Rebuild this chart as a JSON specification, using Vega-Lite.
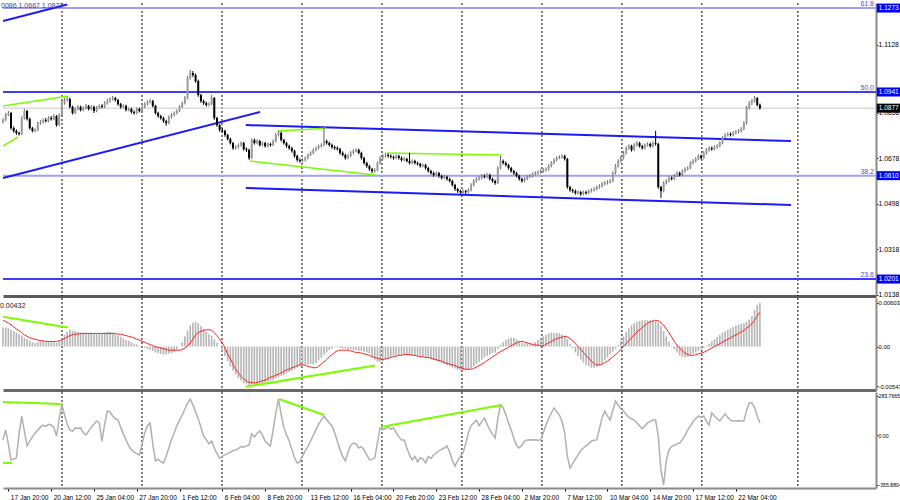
{
"$schema": "https://vega.github.io/schema/vega-lite/v6.json",
"padding": 0,
"background": "white",
"bounds": "flush",
"spacing": 2,
"config": {"view": {"stroke": null}, "axis": {"labelFont": "Liberation Sans", "labelFontSize": 6.8, "labelColor": "#000000", "tickColor": "#000000", "tickSize": 2, "grid": false}, "text": {"font": "Liberation Sans"}},
"datasets": {
"bars": [
{"i":0,"o":1.0822,"h":1.0837,"l":1.0816,"c":1.0830,"m":0.0026,"s":0.0036,"k":-32},
{"i":1,"o":1.0830,"h":1.0858,"l":1.0825,"c":1.0850,"m":0.0026,"s":0.0034,"k":40},
{"i":2,"o":1.0850,"h":1.0866,"l":1.0845,"c":1.0858,"m":0.0025,"s":0.0032,"k":-60},
{"i":3,"o":1.0858,"h":1.0862,"l":1.0792,"c":1.0798,"m":0.0023,"s":0.0030,"k":-176},
{"i":4,"o":1.0798,"h":1.0805,"l":1.0780,"c":1.0787,"m":0.0021,"s":0.0027,"k":-170},
{"i":5,"o":1.0787,"h":1.0793,"l":1.0771,"c":1.0779,"m":0.0019,"s":0.0024,"k":-162},
{"i":6,"o":1.0779,"h":1.0784,"l":1.0768,"c":1.0775,"m":0.0017,"s":0.0022,"k":10},
{"i":7,"o":1.0775,"h":1.0845,"l":1.0771,"c":1.0838,"m":0.0015,"s":0.0019,"k":140},
{"i":8,"o":1.0838,"h":1.0874,"l":1.0832,"c":1.0866,"m":0.0012,"s":0.0016,"k":30},
{"i":9,"o":1.0866,"h":1.0870,"l":1.0828,"c":1.0834,"m":0.0010,"s":0.0014,"k":-75},
{"i":10,"o":1.0834,"h":1.0840,"l":1.0792,"c":1.0798,"m":0.0008,"s":0.0012,"k":-40},
{"i":11,"o":1.0798,"h":1.0803,"l":1.0781,"c":1.0787,"m":0.0006,"s":0.0011,"k":-10},
{"i":12,"o":1.0787,"h":1.0797,"l":1.0782,"c":1.0791,"m":0.0005,"s":0.0010,"k":18},
{"i":13,"o":1.0791,"h":1.0824,"l":1.0786,"c":1.0818,"m":0.0006,"s":0.0009,"k":40},
{"i":14,"o":1.0818,"h":1.0829,"l":1.0812,"c":1.0822,"m":0.0007,"s":0.0008,"k":60},
{"i":15,"o":1.0822,"h":1.0836,"l":1.0816,"c":1.0830,"m":0.0007,"s":0.0008,"k":75},
{"i":16,"o":1.0830,"h":1.0838,"l":1.0820,"c":1.0826,"m":0.0006,"s":0.0007,"k":65},
{"i":17,"o":1.0826,"h":1.0845,"l":1.0821,"c":1.0838,"m":0.0007,"s":0.0007,"k":80},
{"i":18,"o":1.0838,"h":1.0846,"l":1.0828,"c":1.0834,"m":0.0006,"s":0.0007,"k":75},
{"i":19,"o":1.0834,"h":1.0853,"l":1.0829,"c":1.0846,"m":0.0006,"s":0.0007,"k":60},
{"i":20,"o":1.0846,"h":1.0850,"l":1.0804,"c":1.0810,"m":0.0005,"s":0.0007,"k":-4},
{"i":21,"o":1.0810,"h":1.0856,"l":1.0806,"c":1.0850,"m":0.0007,"s":0.0008,"k":120},
{"i":22,"o":1.0850,"h":1.0905,"l":1.0845,"c":1.0897,"m":0.0011,"s":0.0009,"k":219},
{"i":23,"o":1.0897,"h":1.0917,"l":1.0891,"c":1.0909,"m":0.0016,"s":0.0011,"k":150},
{"i":24,"o":1.0909,"h":1.0921,"l":1.0903,"c":1.0913,"m":0.0020,"s":0.0013,"k":80},
{"i":25,"o":1.0913,"h":1.0918,"l":1.0876,"c":1.0882,"m":0.0023,"s":0.0015,"k":40},
{"i":26,"o":1.0882,"h":1.0887,"l":1.0852,"c":1.0858,"m":0.0022,"s":0.0016,"k":30},
{"i":27,"o":1.0858,"h":1.0880,"l":1.0853,"c":1.0874,"m":0.0021,"s":0.0017,"k":55},
{"i":28,"o":1.0874,"h":1.0889,"l":1.0868,"c":1.0882,"m":0.0020,"s":0.0017,"k":50},
{"i":29,"o":1.0882,"h":1.0887,"l":1.0864,"c":1.0870,"m":0.0019,"s":0.0018,"k":54},
{"i":30,"o":1.0870,"h":1.0884,"l":1.0864,"c":1.0878,"m":0.0019,"s":0.0018,"k":20},
{"i":31,"o":1.0878,"h":1.0893,"l":1.0872,"c":1.0886,"m":0.0018,"s":0.0018,"k":4},
{"i":32,"o":1.0886,"h":1.0890,"l":1.0868,"c":1.0874,"m":0.0018,"s":0.0018,"k":30},
{"i":33,"o":1.0874,"h":1.0889,"l":1.0869,"c":1.0882,"m":0.0019,"s":0.0018,"k":60},
{"i":34,"o":1.0882,"h":1.0887,"l":1.0858,"c":1.0866,"m":0.0018,"s":0.0018,"k":80},
{"i":35,"o":1.0866,"h":1.0885,"l":1.0861,"c":1.0878,"m":0.0018,"s":0.0018,"k":104},
{"i":36,"o":1.0878,"h":1.0892,"l":1.0873,"c":1.0886,"m":0.0017,"s":0.0018,"k":90},
{"i":37,"o":1.0886,"h":1.0893,"l":1.0876,"c":1.0882,"m":0.0018,"s":0.0018,"k":-40},
{"i":38,"o":1.0882,"h":1.0904,"l":1.0877,"c":1.0897,"m":0.0019,"s":0.0018,"k":80},
{"i":39,"o":1.0897,"h":1.0914,"l":1.0891,"c":1.0905,"m":0.0020,"s":0.0018,"k":176},
{"i":40,"o":1.0905,"h":1.0920,"l":1.0899,"c":1.0913,"m":0.0020,"s":0.0018,"k":170},
{"i":41,"o":1.0913,"h":1.0925,"l":1.0907,"c":1.0917,"m":0.0019,"s":0.0018,"k":140},
{"i":42,"o":1.0917,"h":1.0922,"l":1.0903,"c":1.0909,"m":0.0017,"s":0.0018,"k":120},
{"i":43,"o":1.0909,"h":1.0914,"l":1.0887,"c":1.0893,"m":0.0015,"s":0.0017,"k":111},
{"i":44,"o":1.0893,"h":1.0898,"l":1.0875,"c":1.0882,"m":0.0013,"s":0.0017,"k":60},
{"i":45,"o":1.0882,"h":1.0892,"l":1.0877,"c":1.0886,"m":0.0011,"s":0.0016,"k":10},
{"i":46,"o":1.0886,"h":1.0891,"l":1.0864,"c":1.0870,"m":0.0009,"s":0.0015,"k":-32},
{"i":47,"o":1.0870,"h":1.0880,"l":1.0865,"c":1.0874,"m":0.0008,"s":0.0014,"k":-75},
{"i":48,"o":1.0874,"h":1.0879,"l":1.0855,"c":1.0862,"m":0.0006,"s":0.0013,"k":-100},
{"i":49,"o":1.0862,"h":1.0868,"l":1.0851,"c":1.0858,"m":0.0004,"s":0.0012,"k":-120},
{"i":50,"o":1.0858,"h":1.0880,"l":1.0853,"c":1.0874,"m":0.0003,"s":0.0010,"k":-130},
{"i":51,"o":1.0874,"h":1.0879,"l":1.0860,"c":1.0866,"m":0.0001,"s":0.0009,"k":-140},
{"i":52,"o":1.0866,"h":1.0888,"l":1.0861,"c":1.0882,"m":0.0000,"s":0.0007,"k":-60},
{"i":53,"o":1.0882,"h":1.0900,"l":1.0877,"c":1.0893,"m":-0.0002,"s":0.0006,"k":20},
{"i":54,"o":1.0893,"h":1.0908,"l":1.0888,"c":1.0901,"m":-0.0003,"s":0.0004,"k":70},
{"i":55,"o":1.0901,"h":1.0913,"l":1.0896,"c":1.0905,"m":-0.0004,"s":0.0003,"k":90},
{"i":56,"o":1.0905,"h":1.0910,"l":1.0880,"c":1.0886,"m":-0.0006,"s":0.0001,"k":-60},
{"i":57,"o":1.0886,"h":1.0890,"l":1.0852,"c":1.0858,"m":-0.0008,"s":0.0000,"k":-183},
{"i":58,"o":1.0858,"h":1.0863,"l":1.0839,"c":1.0846,"m":-0.0009,"s":-0.0001,"k":-170},
{"i":59,"o":1.0846,"h":1.0851,"l":1.0831,"c":1.0838,"m":-0.0010,"s":-0.0002,"k":-190},
{"i":60,"o":1.0838,"h":1.0843,"l":1.0819,"c":1.0826,"m":-0.0011,"s":-0.0003,"k":-198},
{"i":61,"o":1.0826,"h":1.0831,"l":1.0808,"c":1.0818,"m":-0.0011,"s":-0.0004,"k":-150},
{"i":62,"o":1.0818,"h":1.0848,"l":1.0813,"c":1.0842,"m":-0.0010,"s":-0.0005,"k":-90},
{"i":63,"o":1.0842,"h":1.0857,"l":1.0836,"c":1.0850,"m":-0.0009,"s":-0.0005,"k":-30},
{"i":64,"o":1.0850,"h":1.0864,"l":1.0845,"c":1.0858,"m":-0.0007,"s":-0.0005,"k":18},
{"i":65,"o":1.0858,"h":1.0872,"l":1.0852,"c":1.0866,"m":-0.0004,"s":-0.0005,"k":70},
{"i":66,"o":1.0866,"h":1.0889,"l":1.0861,"c":1.0882,"m":0.0000,"s":-0.0005,"k":110},
{"i":67,"o":1.0882,"h":1.0903,"l":1.0877,"c":1.0897,"m":0.0006,"s":-0.0004,"k":147},
{"i":68,"o":1.0897,"h":1.0925,"l":1.0892,"c":1.0917,"m":0.0014,"s":-0.0002,"k":190},
{"i":69,"o":1.0917,"h":1.1004,"l":1.0912,"c":1.0996,"m":0.0022,"s":0.0001,"k":230},
{"i":70,"o":1.0996,"h":1.1028,"l":1.0990,"c":1.1016,"m":0.0029,"s":0.0005,"k":262},
{"i":71,"o":1.1016,"h":1.1024,"l":1.1000,"c":1.1008,"m":0.0033,"s":0.0010,"k":220},
{"i":72,"o":1.1008,"h":1.1014,"l":1.0978,"c":1.0984,"m":0.0034,"s":0.0016,"k":170},
{"i":73,"o":1.0984,"h":1.0990,"l":1.0922,"c":1.0929,"m":0.0032,"s":0.0019,"k":120},
{"i":74,"o":1.0929,"h":1.0934,"l":1.0898,"c":1.0905,"m":0.0028,"s":0.0021,"k":60},
{"i":75,"o":1.0905,"h":1.0911,"l":1.0890,"c":1.0897,"m":0.0024,"s":0.0022,"k":-4},
{"i":76,"o":1.0897,"h":1.0903,"l":1.0883,"c":1.0890,"m":0.0020,"s":0.0023,"k":-30},
{"i":77,"o":1.0890,"h":1.0900,"l":1.0884,"c":1.0893,"m":0.0017,"s":0.0023,"k":-60},
{"i":78,"o":1.0893,"h":1.0929,"l":1.0888,"c":1.0917,"m":0.0015,"s":0.0022,"k":-40},
{"i":79,"o":1.0917,"h":1.0921,"l":1.0831,"c":1.0838,"m":0.0010,"s":0.0019,"k":-90},
{"i":80,"o":1.0838,"h":1.0843,"l":1.0803,"c":1.0810,"m":0.0005,"s":0.0015,"k":-130},
{"i":81,"o":1.0810,"h":1.0815,"l":1.0784,"c":1.0791,"m":0.0000,"s":0.0010,"k":-162},
{"i":82,"o":1.0791,"h":1.0798,"l":1.0780,"c":1.0787,"m":-0.0006,"s":0.0005,"k":-150},
{"i":83,"o":1.0787,"h":1.0792,"l":1.0764,"c":1.0771,"m":-0.0013,"s":-0.0002,"k":-140},
{"i":84,"o":1.0771,"h":1.0776,"l":1.0749,"c":1.0755,"m":-0.0020,"s":-0.0010,"k":-130},
{"i":85,"o":1.0755,"h":1.0760,"l":1.0733,"c":1.0739,"m":-0.0027,"s":-0.0017,"k":-120},
{"i":86,"o":1.0739,"h":1.0744,"l":1.0712,"c":1.0719,"m":-0.0033,"s":-0.0024,"k":-110},
{"i":87,"o":1.0719,"h":1.0730,"l":1.0713,"c":1.0723,"m":-0.0038,"s":-0.0031,"k":-104},
{"i":88,"o":1.0723,"h":1.0738,"l":1.0717,"c":1.0731,"m":-0.0043,"s":-0.0036,"k":-95},
{"i":89,"o":1.0731,"h":1.0745,"l":1.0725,"c":1.0739,"m":-0.0047,"s":-0.0041,"k":-80},
{"i":90,"o":1.0739,"h":1.0744,"l":1.0709,"c":1.0715,"m":-0.0050,"s":-0.0044,"k":-85},
{"i":91,"o":1.0715,"h":1.0722,"l":1.0704,"c":1.0712,"m":-0.0052,"s":-0.0047,"k":-75},
{"i":92,"o":1.0712,"h":1.0717,"l":1.0672,"c":1.0680,"m":-0.0053,"s":-0.0049,"k":-68},
{"i":93,"o":1.0680,"h":1.0758,"l":1.0676,"c":1.0751,"m":-0.0052,"s":-0.0049,"k":10},
{"i":94,"o":1.0751,"h":1.0757,"l":1.0733,"c":1.0739,"m":-0.0051,"s":-0.0050,"k":-10},
{"i":95,"o":1.0739,"h":1.0754,"l":1.0734,"c":1.0747,"m":-0.0051,"s":-0.0049,"k":15},
{"i":96,"o":1.0747,"h":1.0752,"l":1.0725,"c":1.0731,"m":-0.0050,"s":-0.0048,"k":32},
{"i":97,"o":1.0731,"h":1.0745,"l":1.0726,"c":1.0739,"m":-0.0050,"s":-0.0047,"k":0},
{"i":98,"o":1.0739,"h":1.0744,"l":1.0721,"c":1.0727,"m":-0.0049,"s":-0.0046,"k":-40},
{"i":99,"o":1.0727,"h":1.0741,"l":1.0722,"c":1.0735,"m":-0.0048,"s":-0.0044,"k":-60},
{"i":100,"o":1.0735,"h":1.0740,"l":1.0725,"c":1.0731,"m":-0.0047,"s":-0.0042,"k":-75},
{"i":101,"o":1.0731,"h":1.0753,"l":1.0727,"c":1.0747,"m":-0.0046,"s":-0.0041,"k":40},
{"i":102,"o":1.0747,"h":1.0778,"l":1.0742,"c":1.0771,"m":-0.0044,"s":-0.0039,"k":160},
{"i":103,"o":1.0771,"h":1.0787,"l":1.0765,"c":1.0779,"m":-0.0042,"s":-0.0038,"k":262},
{"i":104,"o":1.0779,"h":1.0784,"l":1.0745,"c":1.0751,"m":-0.0040,"s":-0.0036,"k":150},
{"i":105,"o":1.0751,"h":1.0756,"l":1.0733,"c":1.0739,"m":-0.0039,"s":-0.0034,"k":60},
{"i":106,"o":1.0739,"h":1.0744,"l":1.0720,"c":1.0727,"m":-0.0037,"s":-0.0032,"k":4},
{"i":107,"o":1.0727,"h":1.0733,"l":1.0712,"c":1.0719,"m":-0.0035,"s":-0.0031,"k":-40},
{"i":108,"o":1.0719,"h":1.0724,"l":1.0701,"c":1.0708,"m":-0.0033,"s":-0.0029,"k":-100},
{"i":109,"o":1.0708,"h":1.0713,"l":1.0681,"c":1.0688,"m":-0.0031,"s":-0.0028,"k":-160},
{"i":110,"o":1.0688,"h":1.0693,"l":1.0665,"c":1.0672,"m":-0.0029,"s":-0.0026,"k":-198},
{"i":111,"o":1.0672,"h":1.0678,"l":1.0661,"c":1.0668,"m":-0.0027,"s":-0.0025,"k":-190},
{"i":112,"o":1.0668,"h":1.0679,"l":1.0662,"c":1.0672,"m":-0.0025,"s":-0.0025,"k":-147},
{"i":113,"o":1.0672,"h":1.0686,"l":1.0666,"c":1.0680,"m":-0.0025,"s":-0.0026,"k":-110},
{"i":114,"o":1.0680,"h":1.0698,"l":1.0675,"c":1.0692,"m":-0.0025,"s":-0.0027,"k":-80},
{"i":115,"o":1.0692,"h":1.0706,"l":1.0687,"c":1.0700,"m":-0.0024,"s":-0.0028,"k":-40},
{"i":116,"o":1.0700,"h":1.0718,"l":1.0695,"c":1.0712,"m":-0.0024,"s":-0.0029,"k":0},
{"i":117,"o":1.0712,"h":1.0725,"l":1.0706,"c":1.0719,"m":-0.0023,"s":-0.0029,"k":40},
{"i":118,"o":1.0719,"h":1.0733,"l":1.0713,"c":1.0727,"m":-0.0019,"s":-0.0027,"k":80},
{"i":119,"o":1.0727,"h":1.0738,"l":1.0721,"c":1.0731,"m":-0.0015,"s":-0.0024,"k":110},
{"i":120,"o":1.0731,"h":1.0798,"l":1.0726,"c":1.0747,"m":-0.0011,"s":-0.0021,"k":140},
{"i":121,"o":1.0747,"h":1.0753,"l":1.0733,"c":1.0739,"m":-0.0008,"s":-0.0018,"k":115},
{"i":122,"o":1.0739,"h":1.0745,"l":1.0725,"c":1.0731,"m":-0.0005,"s":-0.0014,"k":90},
{"i":123,"o":1.0731,"h":1.0737,"l":1.0716,"c":1.0723,"m":-0.0003,"s":-0.0011,"k":68},
{"i":124,"o":1.0723,"h":1.0729,"l":1.0712,"c":1.0719,"m":-0.0001,"s":-0.0008,"k":20},
{"i":125,"o":1.0719,"h":1.0726,"l":1.0709,"c":1.0715,"m":-0.0001,"s":-0.0006,"k":-40},
{"i":126,"o":1.0715,"h":1.0720,"l":1.0693,"c":1.0700,"m":-0.0002,"s":-0.0005,"k":-100},
{"i":127,"o":1.0700,"h":1.0706,"l":1.0686,"c":1.0692,"m":-0.0003,"s":-0.0005,"k":-150},
{"i":128,"o":1.0692,"h":1.0697,"l":1.0673,"c":1.0680,"m":-0.0003,"s":-0.0005,"k":-183},
{"i":129,"o":1.0680,"h":1.0695,"l":1.0675,"c":1.0688,"m":-0.0004,"s":-0.0005,"k":-120},
{"i":130,"o":1.0688,"h":1.0707,"l":1.0683,"c":1.0700,"m":-0.0004,"s":-0.0006,"k":-70},
{"i":131,"o":1.0700,"h":1.0714,"l":1.0694,"c":1.0708,"m":-0.0005,"s":-0.0007,"k":-54},
{"i":132,"o":1.0708,"h":1.0718,"l":1.0702,"c":1.0712,"m":-0.0005,"s":-0.0008,"k":-60},
{"i":133,"o":1.0712,"h":1.0717,"l":1.0694,"c":1.0700,"m":-0.0006,"s":-0.0008,"k":-90},
{"i":134,"o":1.0700,"h":1.0705,"l":1.0673,"c":1.0680,"m":-0.0006,"s":-0.0009,"k":-80},
{"i":135,"o":1.0680,"h":1.0685,"l":1.0654,"c":1.0660,"m":-0.0007,"s":-0.0010,"k":-104},
{"i":136,"o":1.0660,"h":1.0665,"l":1.0641,"c":1.0648,"m":-0.0008,"s":-0.0011,"k":-140},
{"i":137,"o":1.0648,"h":1.0653,"l":1.0629,"c":1.0636,"m":-0.0009,"s":-0.0012,"k":-176},
{"i":138,"o":1.0636,"h":1.0641,"l":1.0620,"c":1.0628,"m":-0.0014,"s":-0.0014,"k":-170},
{"i":139,"o":1.0628,"h":1.0639,"l":1.0622,"c":1.0632,"m":-0.0018,"s":-0.0015,"k":-162},
{"i":140,"o":1.0632,"h":1.0666,"l":1.0627,"c":1.0660,"m":-0.0021,"s":-0.0016,"k":-50},
{"i":141,"o":1.0660,"h":1.0687,"l":1.0655,"c":1.0680,"m":-0.0022,"s":-0.0017,"k":54},
{"i":142,"o":1.0680,"h":1.0695,"l":1.0674,"c":1.0688,"m":-0.0020,"s":-0.0018,"k":40},
{"i":143,"o":1.0688,"h":1.0699,"l":1.0682,"c":1.0692,"m":-0.0017,"s":-0.0017,"k":50},
{"i":144,"o":1.0692,"h":1.0698,"l":1.0681,"c":1.0688,"m":-0.0015,"s":-0.0016,"k":60},
{"i":145,"o":1.0688,"h":1.0694,"l":1.0678,"c":1.0684,"m":-0.0014,"s":-0.0015,"k":45},
{"i":146,"o":1.0684,"h":1.0690,"l":1.0673,"c":1.0680,"m":-0.0013,"s":-0.0014,"k":54},
{"i":147,"o":1.0680,"h":1.0694,"l":1.0675,"c":1.0688,"m":-0.0012,"s":-0.0013,"k":20},
{"i":148,"o":1.0688,"h":1.0693,"l":1.0674,"c":1.0680,"m":-0.0012,"s":-0.0012,"k":-10},
{"i":149,"o":1.0680,"h":1.0686,"l":1.0666,"c":1.0672,"m":-0.0012,"s":-0.0012,"k":-32},
{"i":150,"o":1.0672,"h":1.0683,"l":1.0667,"c":1.0676,"m":-0.0011,"s":-0.0011,"k":-32},
{"i":151,"o":1.0676,"h":1.0681,"l":1.0662,"c":1.0668,"m":-0.0011,"s":-0.0011,"k":-90},
{"i":152,"o":1.0668,"h":1.0700,"l":1.0654,"c":1.0660,"m":-0.0012,"s":-0.0011,"k":-140},
{"i":153,"o":1.0660,"h":1.0674,"l":1.0655,"c":1.0668,"m":-0.0012,"s":-0.0012,"k":-176},
{"i":154,"o":1.0668,"h":1.0673,"l":1.0654,"c":1.0660,"m":-0.0012,"s":-0.0012,"k":-150},
{"i":155,"o":1.0660,"h":1.0666,"l":1.0650,"c":1.0656,"m":-0.0013,"s":-0.0013,"k":-190},
{"i":156,"o":1.0656,"h":1.0661,"l":1.0642,"c":1.0648,"m":-0.0013,"s":-0.0014,"k":-160},
{"i":157,"o":1.0648,"h":1.0658,"l":1.0643,"c":1.0652,"m":-0.0014,"s":-0.0014,"k":-170},
{"i":158,"o":1.0652,"h":1.0657,"l":1.0634,"c":1.0640,"m":-0.0015,"s":-0.0015,"k":-198},
{"i":159,"o":1.0640,"h":1.0645,"l":1.0622,"c":1.0628,"m":-0.0016,"s":-0.0015,"k":-150},
{"i":160,"o":1.0628,"h":1.0633,"l":1.0614,"c":1.0620,"m":-0.0017,"s":-0.0016,"k":-165},
{"i":161,"o":1.0620,"h":1.0626,"l":1.0606,"c":1.0613,"m":-0.0018,"s":-0.0017,"k":-140},
{"i":162,"o":1.0613,"h":1.0627,"l":1.0608,"c":1.0620,"m":-0.0020,"s":-0.0018,"k":-126},
{"i":163,"o":1.0620,"h":1.0625,"l":1.0602,"c":1.0609,"m":-0.0021,"s":-0.0019,"k":-110},
{"i":164,"o":1.0609,"h":1.0614,"l":1.0595,"c":1.0601,"m":-0.0023,"s":-0.0020,"k":-100},
{"i":165,"o":1.0601,"h":1.0612,"l":1.0596,"c":1.0605,"m":-0.0024,"s":-0.0022,"k":-90},
{"i":166,"o":1.0605,"h":1.0610,"l":1.0590,"c":1.0597,"m":-0.0026,"s":-0.0023,"k":-75},
{"i":167,"o":1.0597,"h":1.0602,"l":1.0583,"c":1.0589,"m":-0.0027,"s":-0.0024,"k":-120},
{"i":168,"o":1.0589,"h":1.0594,"l":1.0567,"c":1.0573,"m":-0.0029,"s":-0.0025,"k":-180},
{"i":169,"o":1.0573,"h":1.0578,"l":1.0550,"c":1.0557,"m":-0.0030,"s":-0.0026,"k":-219},
{"i":170,"o":1.0557,"h":1.0562,"l":1.0542,"c":1.0549,"m":-0.0032,"s":-0.0028,"k":-180},
{"i":171,"o":1.0549,"h":1.0555,"l":1.0538,"c":1.0545,"m":-0.0033,"s":-0.0029,"k":-150},
{"i":172,"o":1.0545,"h":1.0556,"l":1.0539,"c":1.0549,"m":-0.0033,"s":-0.0030,"k":-126},
{"i":173,"o":1.0549,"h":1.0554,"l":1.0537,"c":1.0545,"m":-0.0033,"s":-0.0031,"k":-60},
{"i":174,"o":1.0545,"h":1.0560,"l":1.0540,"c":1.0553,"m":-0.0032,"s":-0.0031,"k":20},
{"i":175,"o":1.0553,"h":1.0580,"l":1.0548,"c":1.0573,"m":-0.0030,"s":-0.0031,"k":70},
{"i":176,"o":1.0573,"h":1.0596,"l":1.0568,"c":1.0589,"m":-0.0027,"s":-0.0030,"k":90},
{"i":177,"o":1.0589,"h":1.0604,"l":1.0583,"c":1.0597,"m":-0.0024,"s":-0.0028,"k":110},
{"i":178,"o":1.0597,"h":1.0608,"l":1.0591,"c":1.0601,"m":-0.0021,"s":-0.0026,"k":70},
{"i":179,"o":1.0601,"h":1.0616,"l":1.0595,"c":1.0609,"m":-0.0018,"s":-0.0024,"k":100},
{"i":180,"o":1.0609,"h":1.0615,"l":1.0599,"c":1.0605,"m":-0.0015,"s":-0.0022,"k":126},
{"i":181,"o":1.0605,"h":1.0620,"l":1.0600,"c":1.0613,"m":-0.0013,"s":-0.0019,"k":80},
{"i":182,"o":1.0613,"h":1.0618,"l":1.0591,"c":1.0597,"m":-0.0011,"s":-0.0017,"k":40},
{"i":183,"o":1.0597,"h":1.0602,"l":1.0582,"c":1.0589,"m":-0.0009,"s":-0.0014,"k":10},
{"i":184,"o":1.0589,"h":1.0594,"l":1.0574,"c":1.0581,"m":-0.0008,"s":-0.0012,"k":-18},
{"i":185,"o":1.0581,"h":1.0647,"l":1.0577,"c":1.0640,"m":-0.0003,"s":-0.0009,"k":120},
{"i":186,"o":1.0640,"h":1.0688,"l":1.0635,"c":1.0668,"m":0.0002,"s":-0.0007,"k":219},
{"i":187,"o":1.0668,"h":1.0674,"l":1.0654,"c":1.0660,"m":0.0006,"s":-0.0005,"k":200},
{"i":188,"o":1.0660,"h":1.0666,"l":1.0646,"c":1.0652,"m":0.0009,"s":-0.0003,"k":150},
{"i":189,"o":1.0652,"h":1.0657,"l":1.0634,"c":1.0640,"m":0.0011,"s":-0.0001,"k":90},
{"i":190,"o":1.0640,"h":1.0645,"l":1.0622,"c":1.0628,"m":0.0012,"s":0.0001,"k":40},
{"i":191,"o":1.0628,"h":1.0633,"l":1.0613,"c":1.0620,"m":0.0012,"s":0.0003,"k":-20},
{"i":192,"o":1.0620,"h":1.0625,"l":1.0603,"c":1.0609,"m":0.0010,"s":0.0005,"k":-70},
{"i":193,"o":1.0609,"h":1.0614,"l":1.0590,"c":1.0597,"m":0.0007,"s":0.0007,"k":-90},
{"i":194,"o":1.0597,"h":1.0602,"l":1.0582,"c":1.0589,"m":0.0005,"s":0.0007,"k":-70},
{"i":195,"o":1.0589,"h":1.0604,"l":1.0584,"c":1.0597,"m":0.0004,"s":0.0006,"k":-40},
{"i":196,"o":1.0597,"h":1.0611,"l":1.0592,"c":1.0605,"m":0.0004,"s":0.0005,"k":-32},
{"i":197,"o":1.0605,"h":1.0616,"l":1.0600,"c":1.0609,"m":0.0003,"s":0.0004,"k":-30},
{"i":198,"o":1.0609,"h":1.0623,"l":1.0603,"c":1.0617,"m":0.0004,"s":0.0003,"k":-32},
{"i":199,"o":1.0617,"h":1.0627,"l":1.0611,"c":1.0620,"m":0.0006,"s":0.0002,"k":-30},
{"i":200,"o":1.0620,"h":1.0631,"l":1.0614,"c":1.0624,"m":0.0009,"s":0.0002,"k":-35},
{"i":201,"o":1.0624,"h":1.0635,"l":1.0618,"c":1.0628,"m":0.0012,"s":0.0001,"k":-32},
{"i":202,"o":1.0628,"h":1.0639,"l":1.0622,"c":1.0632,"m":0.0014,"s":0.0001,"k":20},
{"i":203,"o":1.0632,"h":1.0643,"l":1.0626,"c":1.0636,"m":0.0016,"s":0.0003,"k":75},
{"i":204,"o":1.0636,"h":1.0655,"l":1.0630,"c":1.0648,"m":0.0018,"s":0.0005,"k":120},
{"i":205,"o":1.0648,"h":1.0667,"l":1.0643,"c":1.0660,"m":0.0019,"s":0.0007,"k":160},
{"i":206,"o":1.0660,"h":1.0679,"l":1.0655,"c":1.0672,"m":0.0019,"s":0.0009,"k":198},
{"i":207,"o":1.0672,"h":1.0687,"l":1.0666,"c":1.0680,"m":0.0019,"s":0.0011,"k":170},
{"i":208,"o":1.0680,"h":1.0691,"l":1.0675,"c":1.0684,"m":0.0018,"s":0.0012,"k":147},
{"i":209,"o":1.0684,"h":1.0694,"l":1.0678,"c":1.0688,"m":0.0016,"s":0.0013,"k":100},
{"i":210,"o":1.0688,"h":1.0693,"l":1.0670,"c":1.0676,"m":0.0014,"s":0.0014,"k":20},
{"i":211,"o":1.0676,"h":1.0680,"l":1.0558,"c":1.0565,"m":0.0010,"s":0.0013,"k":-150},
{"i":212,"o":1.0565,"h":1.0570,"l":1.0546,"c":1.0553,"m":0.0004,"s":0.0011,"k":-234},
{"i":213,"o":1.0553,"h":1.0559,"l":1.0542,"c":1.0549,"m":-0.0002,"s":0.0008,"k":-200},
{"i":214,"o":1.0549,"h":1.0555,"l":1.0535,"c":1.0541,"m":-0.0008,"s":0.0004,"k":-170},
{"i":215,"o":1.0541,"h":1.0552,"l":1.0535,"c":1.0545,"m":-0.0013,"s":0.0000,"k":-140},
{"i":216,"o":1.0545,"h":1.0550,"l":1.0530,"c":1.0537,"m":-0.0018,"s":-0.0004,"k":-110},
{"i":217,"o":1.0537,"h":1.0551,"l":1.0532,"c":1.0545,"m":-0.0022,"s":-0.0008,"k":-90},
{"i":218,"o":1.0545,"h":1.0551,"l":1.0535,"c":1.0541,"m":-0.0025,"s":-0.0012,"k":-75},
{"i":219,"o":1.0541,"h":1.0555,"l":1.0536,"c":1.0549,"m":-0.0027,"s":-0.0016,"k":-60},
{"i":220,"o":1.0549,"h":1.0560,"l":1.0543,"c":1.0553,"m":-0.0029,"s":-0.0020,"k":-40},
{"i":221,"o":1.0553,"h":1.0564,"l":1.0547,"c":1.0557,"m":-0.0029,"s":-0.0023,"k":-35},
{"i":222,"o":1.0557,"h":1.0571,"l":1.0551,"c":1.0565,"m":-0.0028,"s":-0.0025,"k":-32},
{"i":223,"o":1.0565,"h":1.0576,"l":1.0559,"c":1.0569,"m":-0.0026,"s":-0.0025,"k":50},
{"i":224,"o":1.0569,"h":1.0584,"l":1.0563,"c":1.0577,"m":-0.0023,"s":-0.0024,"k":130},
{"i":225,"o":1.0577,"h":1.0588,"l":1.0571,"c":1.0581,"m":-0.0019,"s":-0.0022,"k":176},
{"i":226,"o":1.0581,"h":1.0592,"l":1.0575,"c":1.0585,"m":-0.0015,"s":-0.0020,"k":140},
{"i":227,"o":1.0585,"h":1.0596,"l":1.0579,"c":1.0589,"m":-0.0011,"s":-0.0017,"k":111},
{"i":228,"o":1.0589,"h":1.0627,"l":1.0584,"c":1.0620,"m":-0.0007,"s":-0.0014,"k":180},
{"i":229,"o":1.0620,"h":1.0655,"l":1.0615,"c":1.0648,"m":-0.0003,"s":-0.0011,"k":248},
{"i":230,"o":1.0648,"h":1.0675,"l":1.0642,"c":1.0668,"m":0.0002,"s":-0.0008,"k":220},
{"i":231,"o":1.0668,"h":1.0687,"l":1.0662,"c":1.0680,"m":0.0008,"s":-0.0004,"k":190},
{"i":232,"o":1.0680,"h":1.0707,"l":1.0675,"c":1.0700,"m":0.0014,"s":0.0000,"k":176},
{"i":233,"o":1.0700,"h":1.0726,"l":1.0694,"c":1.0719,"m":0.0020,"s":0.0004,"k":150},
{"i":234,"o":1.0719,"h":1.0734,"l":1.0713,"c":1.0727,"m":0.0025,"s":0.0008,"k":130},
{"i":235,"o":1.0727,"h":1.0732,"l":1.0705,"c":1.0712,"m":0.0029,"s":0.0012,"k":120},
{"i":236,"o":1.0712,"h":1.0738,"l":1.0707,"c":1.0731,"m":0.0032,"s":0.0016,"k":111},
{"i":237,"o":1.0731,"h":1.0746,"l":1.0725,"c":1.0739,"m":0.0034,"s":0.0020,"k":90},
{"i":238,"o":1.0739,"h":1.0744,"l":1.0721,"c":1.0727,"m":0.0035,"s":0.0023,"k":70},
{"i":239,"o":1.0727,"h":1.0732,"l":1.0713,"c":1.0719,"m":0.0036,"s":0.0026,"k":47},
{"i":240,"o":1.0719,"h":1.0738,"l":1.0714,"c":1.0731,"m":0.0036,"s":0.0029,"k":70},
{"i":241,"o":1.0731,"h":1.0742,"l":1.0725,"c":1.0735,"m":0.0036,"s":0.0032,"k":90},
{"i":242,"o":1.0735,"h":1.0741,"l":1.0721,"c":1.0727,"m":0.0036,"s":0.0034,"k":100},
{"i":243,"o":1.0727,"h":1.0746,"l":1.0722,"c":1.0739,"m":0.0035,"s":0.0035,"k":111},
{"i":244,"o":1.0739,"h":1.0787,"l":1.0729,"c":1.0735,"m":0.0035,"s":0.0036,"k":111},
{"i":245,"o":1.0735,"h":1.0740,"l":1.0558,"c":1.0565,"m":0.0033,"s":0.0035,"k":-4},
{"i":246,"o":1.0565,"h":1.0570,"l":1.0522,"c":1.0549,"m":0.0028,"s":0.0033,"k":-250},
{"i":247,"o":1.0549,"h":1.0588,"l":1.0544,"c":1.0581,"m":0.0021,"s":0.0029,"k":-356},
{"i":248,"o":1.0581,"h":1.0596,"l":1.0575,"c":1.0589,"m":0.0014,"s":0.0024,"k":-180},
{"i":249,"o":1.0589,"h":1.0608,"l":1.0584,"c":1.0601,"m":0.0007,"s":0.0019,"k":-104},
{"i":250,"o":1.0601,"h":1.0607,"l":1.0591,"c":1.0597,"m":0.0001,"s":0.0013,"k":-80},
{"i":251,"o":1.0597,"h":1.0616,"l":1.0592,"c":1.0609,"m":-0.0004,"s":0.0007,"k":-70},
{"i":252,"o":1.0609,"h":1.0627,"l":1.0604,"c":1.0620,"m":-0.0008,"s":0.0002,"k":-60},
{"i":253,"o":1.0620,"h":1.0626,"l":1.0607,"c":1.0613,"m":-0.0012,"s":-0.0002,"k":-54},
{"i":254,"o":1.0613,"h":1.0635,"l":1.0608,"c":1.0628,"m":-0.0014,"s":-0.0006,"k":-30},
{"i":255,"o":1.0628,"h":1.0643,"l":1.0622,"c":1.0636,"m":-0.0015,"s":-0.0009,"k":0},
{"i":256,"o":1.0636,"h":1.0647,"l":1.0630,"c":1.0640,"m":-0.0014,"s":-0.0011,"k":40},
{"i":257,"o":1.0640,"h":1.0667,"l":1.0635,"c":1.0660,"m":-0.0012,"s":-0.0012,"k":68},
{"i":258,"o":1.0660,"h":1.0675,"l":1.0654,"c":1.0668,"m":-0.0010,"s":-0.0012,"k":100},
{"i":259,"o":1.0668,"h":1.0683,"l":1.0662,"c":1.0676,"m":-0.0008,"s":-0.0011,"k":120},
{"i":260,"o":1.0676,"h":1.0695,"l":1.0671,"c":1.0688,"m":-0.0006,"s":-0.0010,"k":140},
{"i":261,"o":1.0688,"h":1.0693,"l":1.0674,"c":1.0680,"m":-0.0004,"s":-0.0009,"k":130},
{"i":262,"o":1.0680,"h":1.0707,"l":1.0675,"c":1.0700,"m":-0.0002,"s":-0.0008,"k":140},
{"i":263,"o":1.0700,"h":1.0719,"l":1.0694,"c":1.0712,"m":0.0001,"s":-0.0006,"k":100},
{"i":264,"o":1.0712,"h":1.0726,"l":1.0706,"c":1.0719,"m":0.0004,"s":-0.0004,"k":75},
{"i":265,"o":1.0719,"h":1.0725,"l":1.0709,"c":1.0715,"m":0.0007,"s":-0.0002,"k":162},
{"i":266,"o":1.0715,"h":1.0730,"l":1.0710,"c":1.0723,"m":0.0010,"s":0.0000,"k":140},
{"i":267,"o":1.0723,"h":1.0734,"l":1.0717,"c":1.0727,"m":0.0013,"s":0.0002,"k":120},
{"i":268,"o":1.0727,"h":1.0746,"l":1.0722,"c":1.0739,"m":0.0016,"s":0.0004,"k":104},
{"i":269,"o":1.0739,"h":1.0766,"l":1.0734,"c":1.0759,"m":0.0019,"s":0.0006,"k":130},
{"i":270,"o":1.0759,"h":1.0778,"l":1.0753,"c":1.0771,"m":0.0021,"s":0.0008,"k":155},
{"i":271,"o":1.0771,"h":1.0782,"l":1.0765,"c":1.0775,"m":0.0023,"s":0.0010,"k":130},
{"i":272,"o":1.0775,"h":1.0781,"l":1.0765,"c":1.0771,"m":0.0025,"s":0.0012,"k":110},
{"i":273,"o":1.0771,"h":1.0786,"l":1.0766,"c":1.0779,"m":0.0027,"s":0.0014,"k":104},
{"i":274,"o":1.0779,"h":1.0790,"l":1.0773,"c":1.0783,"m":0.0029,"s":0.0016,"k":104},
{"i":275,"o":1.0783,"h":1.0794,"l":1.0777,"c":1.0787,"m":0.0030,"s":0.0018,"k":105},
{"i":276,"o":1.0787,"h":1.0802,"l":1.0781,"c":1.0795,"m":0.0031,"s":0.0020,"k":104},
{"i":277,"o":1.0795,"h":1.0825,"l":1.0790,"c":1.0818,"m":0.0032,"s":0.0022,"k":104},
{"i":278,"o":1.0818,"h":1.0886,"l":1.0813,"c":1.0878,"m":0.0034,"s":0.0025,"k":180},
{"i":279,"o":1.0878,"h":1.0905,"l":1.0872,"c":1.0897,"m":0.0037,"s":0.0028,"k":234},
{"i":280,"o":1.0897,"h":1.0913,"l":1.0889,"c":1.0905,"m":0.0042,"s":0.0031,"k":234},
{"i":281,"o":1.0905,"h":1.0925,"l":1.0899,"c":1.0917,"m":0.0050,"s":0.0036,"k":200},
{"i":282,"o":1.0917,"h":1.0921,"l":1.0884,"c":1.0890,"m":0.0057,"s":0.0042,"k":140},
{"i":283,"o":1.0890,"h":1.0895,"l":1.0871,"c":1.0877,"m":0.0060,"s":0.0047,"k":90}
],
"grid": [{"b":22.06},{"b":51.96},{"b":81.87},{"b":111.78},{"b":141.68},{"b":171.59},{"b":201.5},{"b":231.4},{"b":261.3},{"b":297.2}],
"levels": [
{"p":1.1273,"lbl":"1.1273","pct":"61.8","kind":"minor"},
{"p":1.0941,"lbl":"1.0941","pct":"50.0","kind":"major"},
{"p":1.0610,"lbl":"1.0610","pct":"38.2","kind":"minor"},
{"p":1.0201,"lbl":"1.0201","pct":"23.6","kind":"major"},
{"p":1.0877,"lbl":"1.0877","pct":"","kind":"bid"}
],
"ptrend": [
{"id":"t1","kind":"blue","b":0,"p":1.1222},{"id":"t1","kind":"blue","b":24,"p":1.1287},
{"id":"t2","kind":"blue","b":0,"p":1.0601},{"id":"t2","kind":"blue","b":96.1,"p":1.0862},
{"id":"t3","kind":"blue","b":90.8,"p":1.0810},{"id":"t3","kind":"blue","b":294.6,"p":1.0747},
{"id":"t4","kind":"blue","b":90.8,"p":1.0561},{"id":"t4","kind":"blue","b":294.6,"p":1.0494},
{"id":"g1","kind":"green","b":0,"p":1.0886},{"id":"g1","kind":"green","b":24.3,"p":1.0925},
{"id":"g2","kind":"green","b":0,"p":1.0727},{"id":"g2","kind":"green","b":5.6,"p":1.0763},
{"id":"g3","kind":"green","b":92.3,"p":1.0668},{"id":"g3","kind":"green","b":139.1,"p":1.0613},
{"id":"g4","kind":"green","b":102.8,"p":1.0787},{"id":"g4","kind":"green","b":120.7,"p":1.0798},
{"id":"g5","kind":"green","b":143.6,"p":1.0700},{"id":"g5","kind":"green","b":186.5,"p":1.0692}
],
"mtrend": [
{"id":"m1","b":0,"v":0.0041},{"id":"m1","b":24.3,"v":0.0026},
{"id":"m2","b":90.8,"v":-0.0055},{"id":"m2","b":139.1,"v":-0.0026}
],
"ctrend": [
{"id":"c1","b":0,"v":241},{"id":"c1","b":22,"v":226},
{"id":"c2","b":0,"v":-198},{"id":"c2","b":3.4,"v":-198},
{"id":"c3","b":103.2,"v":262},{"id":"c3","b":120,"v":147},
{"id":"c4","b":141.3,"v":61},{"id":"c4","b":186.5,"v":219}
]
},
"vconcat": [
{
"width": 873, "height": 293,
"layer": [
{"data": {"name": "grid"}, "mark": {"type": "rule", "color": "#000000", "strokeDash": [2, 2], "strokeWidth": 1},
 "encoding": {"x": {"field": "b", "type": "quantitative", "title": null, "scale": {"domain": [0, 326.4], "nice": false, "zero": false, "padding": 0}, "axis": {"labels": false, "ticks": false, "domainColor": "#5a5a5a", "domainWidth": 3, "title": null}}}},
{"data": {"name": "levels"}, "transform": [{"filter": "datum.kind == 'major'"}], "mark": {"type": "rule", "color": "#3c3cff", "strokeWidth": 2},
 "encoding": {"y": {"field": "p", "type": "quantitative", "title": null, "scale": {"domain": [1.0134, 1.1293], "nice": false, "zero": false, "padding": 0},
   "axis": {"orient": "right", "values": [1.1218, 1.1128, 1.1038, 1.0858, 1.0768, 1.0678, 1.0588, 1.0498, 1.0408, 1.0318, 1.0228, 1.0138], "format": ".4f", "domainColor": "#8a8a8a", "domainWidth": 2, "labelPadding": 0, "title": null}}}},
{"data": {"name": "levels"}, "transform": [{"filter": "datum.kind == 'minor'"}], "mark": {"type": "rule", "color": "#a0a0f5", "strokeWidth": 2},
 "encoding": {"y": {"field": "p", "type": "quantitative", "title": null}}},
{"data": {"name": "levels"}, "transform": [{"filter": "datum.kind == 'bid'"}], "mark": {"type": "rule", "color": "#c8c8c8", "strokeWidth": 1},
 "encoding": {"y": {"field": "p", "type": "quantitative", "title": null}}},
{"data": {"name": "ptrend"}, "transform": [{"filter": "datum.kind == 'blue'"}], "mark": {"type": "line", "clip": true, "strokeWidth": 2, "color": "#1a1aff"},
 "encoding": {"x": {"field": "b", "type": "quantitative", "title": null}, "y": {"field": "p", "type": "quantitative", "title": null}, "detail": {"field": "id"}}},
{"data": {"name": "ptrend"}, "transform": [{"filter": "datum.kind == 'green'"}], "mark": {"type": "line", "clip": true, "strokeWidth": 1.5, "color": "#7cfc00"},
 "encoding": {"x": {"field": "b", "type": "quantitative", "title": null}, "y": {"field": "p", "type": "quantitative", "title": null}, "detail": {"field": "id"}}},
{"data": {"name": "bars"}, "mark": {"type": "rule", "strokeWidth": 1},
 "encoding": {"x": {"field": "i", "type": "quantitative", "title": null}, "y": {"field": "l", "type": "quantitative", "title": null}, "y2": {"field": "h"},
  "color": {"condition": {"test": "datum.c >= datum.o", "value": "#606060"}, "value": "#000000"}}},
{"data": {"name": "bars"}, "mark": {"type": "bar", "size": 2},
 "encoding": {"x": {"field": "i", "type": "quantitative", "title": null}, "y": {"field": "o", "type": "quantitative", "title": null}, "y2": {"field": "c"},
  "color": {"condition": {"test": "datum.c >= datum.o", "value": "#9c9c9c"}, "value": "#000000"}}},
{"data": {"name": "levels"}, "transform": [{"filter": "datum.kind != 'bid'"}], "mark": {"type": "text", "align": "right", "baseline": "bottom", "dx": -2, "dy": -1, "fontSize": 7, "color": "#4a4aff"},
 "encoding": {"x": {"datum": 326.4, "type": "quantitative"}, "y": {"field": "p", "type": "quantitative", "title": null}, "text": {"field": "pct"}}},
{"data": {"name": "levels"}, "transform": [{"filter": "datum.kind != 'bid'"}], "mark": {"type": "bar", "orient": "horizontal", "size": 9, "clip": false, "color": "#0000ff"},
 "encoding": {"x": {"datum": 326.7, "type": "quantitative"}, "x2": {"datum": 336.5}, "y": {"field": "p", "type": "quantitative", "title": null}}},
{"data": {"name": "levels"}, "transform": [{"filter": "datum.kind == 'bid'"}], "mark": {"type": "bar", "orient": "horizontal", "size": 9, "clip": false, "color": "#000000"},
 "encoding": {"x": {"datum": 326.7, "type": "quantitative"}, "x2": {"datum": 336.5}, "y": {"field": "p", "type": "quantitative", "title": null}}},
{"data": {"name": "levels"}, "mark": {"type": "text", "align": "left", "baseline": "middle", "dx": 2, "fontSize": 6.5, "color": "#ffffff"},
 "encoding": {"x": {"datum": 326.7, "type": "quantitative"}, "y": {"field": "p", "type": "quantitative", "title": null}, "text": {"field": "lbl"}}},
{"data": {"values": [{"t": "0086  1.0667  1.0877", "b": 0, "p": 1.1280}]}, "mark": {"type": "text", "align": "left", "baseline": "middle", "dx": -2, "fontSize": 7, "color": "#4040a0"},
 "encoding": {"x": {"field": "b", "type": "quantitative", "title": null}, "y": {"field": "p", "type": "quantitative", "title": null}, "text": {"field": "t"}}}
]
},
{
"width": 873, "height": 92,
"layer": [
{"data": {"name": "grid"}, "mark": {"type": "rule", "color": "#000000", "strokeDash": [2, 2], "strokeWidth": 1},
 "encoding": {"x": {"field": "b", "type": "quantitative", "title": null, "scale": {"domain": [0, 326.4], "nice": false, "zero": false, "padding": 0}, "axis": {"labels": false, "ticks": false, "domainColor": "#6a6a6a", "domainWidth": 3, "title": null}}}},
{"data": {"name": "bars"}, "mark": {"type": "bar", "size": 1.6, "color": "#b4b4b4"},
 "encoding": {"x": {"field": "i", "type": "quantitative", "title": null}, "y": {"field": "m", "type": "quantitative", "title": null, "scale": {"domain": [-0.00595, 0.00665], "nice": false, "zero": false, "padding": 0},
   "axis": {"orient": "right", "values": [0.00603, 0, -0.00547], "labelExpr": "datum.value == 0 ? '0.00' : (datum.value < 0 ? '-' : '') + format(abs(datum.value), '.5f')", "labelFontSize": 5.9, "domainColor": "#8a8a8a", "domainWidth": 2, "labelPadding": 0, "title": null}},
  "y2": {"datum": 0}}},
{"data": {"name": "bars"}, "mark": {"type": "line", "color": "#ff2020", "strokeWidth": 1, "interpolate": "monotone"},
 "encoding": {"x": {"field": "i", "type": "quantitative", "title": null}, "y": {"field": "s", "type": "quantitative", "title": null}}},
{"data": {"name": "mtrend"}, "mark": {"type": "line", "clip": true, "strokeWidth": 2, "color": "#7cfc00"},
 "encoding": {"x": {"field": "b", "type": "quantitative", "title": null}, "y": {"field": "v", "type": "quantitative", "title": null}, "detail": {"field": "id"}}},
{"data": {"values": [{"t": "0.00432", "b": 0, "v": 0.0056}]}, "mark": {"type": "text", "align": "left", "baseline": "middle", "dx": -3, "fontSize": 7, "color": "#202020"},
 "encoding": {"x": {"field": "b", "type": "quantitative", "title": null}, "y": {"field": "v", "type": "quantitative", "title": null}, "text": {"field": "t"}}}
]
},
{
"width": 873, "height": 96,
"layer": [
{"data": {"name": "grid"}, "mark": {"type": "rule", "color": "#000000", "strokeDash": [2, 2], "strokeWidth": 1},
 "encoding": {"x": {"field": "b", "type": "quantitative", "title": null, "scale": {"domain": [0, 326.4], "nice": false, "zero": false, "padding": 0},
  "axis": {"values": [2, 18, 34, 50, 66, 82, 98, 114, 130, 146, 162, 178, 194, 210, 226, 242, 258, 274],
   "labelExpr": "['17 Jan 20:00','20 Jan 12:00','25 Jan 04:00','27 Jan 20:00','1 Feb 12:00','6 Feb 04:00','8 Feb 20:00','13 Feb 12:00','16 Feb 04:00','20 Feb 20:00','23 Feb 12:00','28 Feb 04:00','2 Mar 20:00','7 Mar 12:00','10 Mar 04:00','14 Mar 20:00','17 Mar 12:00','22 Mar 04:00'][round((datum.value - 2) / 16)]",
   "labelAlign": "left", "labelOffset": 2, "labelPadding": 3, "labelFontSize": 6.5, "labelOverlap": false, "labelFlush": false, "tickSize": 3, "domainColor": "#8a8a8a", "domainWidth": 2, "title": null}}}},
{"data": {"name": "bars"}, "mark": {"type": "line", "color": "#b0b0b0", "strokeWidth": 1.5},
 "encoding": {"x": {"field": "i", "type": "quantitative", "title": null}, "y": {"field": "k", "type": "quantitative", "title": null, "scale": {"domain": [-377.5, 312.5], "nice": false, "zero": false, "padding": 0},
   "axis": {"orient": "right", "values": [283.7665, 0, -355.8804], "labelExpr": "datum.value == 0 ? '0.00' : (datum.value < 0 ? '-' : '') + format(abs(datum.value), '.4f')", "labelFontSize": 5.2, "domainColor": "#8a8a8a", "domainWidth": 2, "labelPadding": 0, "title": null}}}},
{"data": {"name": "ctrend"}, "mark": {"type": "line", "clip": true, "strokeWidth": 2, "color": "#7cfc00"},
 "encoding": {"x": {"field": "b", "type": "quantitative", "title": null}, "y": {"field": "v", "type": "quantitative", "title": null}, "detail": {"field": "id"}}}
]
}
]
}
